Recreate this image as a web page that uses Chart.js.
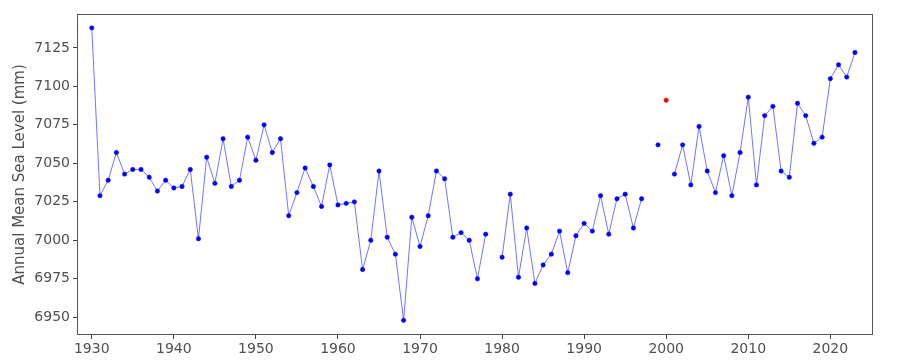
<!DOCTYPE html>
<html lang="en">
<head>
<meta charset="UTF-8">
<title>Annual Mean Sea Level</title>
<script src="https://cdn.jsdelivr.net/npm/chart.js"></script>
<style>
    html, body { margin: 0; padding: 0; background: #fff; }
    .wrap { width: 900px; height: 360px; position: relative; }
</style>
</head>
<body>
<div class="wrap"><canvas id="seaChart"></canvas></div>
<script>
// data
const years = [1930, 1931, 1932, 1933, 1934, 1935, 1936, 1937, 1938, 1939,
    1940, 1941, 1942, 1943, 1944, 1945, 1946, 1947, 1948, 1949,
    1950, 1951, 1952, 1953, 1954, 1955, 1956, 1957, 1958, 1959,
    1960, 1961, 1962, 1963, 1964, 1965, 1966, 1967, 1968, 1969,
    1970, 1971, 1972, 1973, 1974, 1975, 1976, 1977, 1978, 1979,
    1980, 1981, 1982, 1983, 1984, 1985, 1986, 1987, 1988, 1989,
    1990, 1991, 1992, 1993, 1994, 1995, 1996, 1997, 1998, 1999,
    2000, 2001, 2002, 2003, 2004, 2005, 2006, 2007, 2008, 2009,
    2010, 2011, 2012, 2013, 2014, 2015, 2016, 2017, 2018, 2019,
    2020, 2021, 2022, 2023];
const seaLevel = [7138, 7029, 7039, 7057, 7043, 7046, 7046, 7041, 7032, 7039,
    7034, 7035, 7046, 7001, 7054, 7037, 7066, 7035, 7039, 7067,
    7052, 7075, 7057, 7066, 7016, 7031, 7047, 7035, 7022, 7049,
    7023, 7024, 7025, 6981, 7000, 7045, 7002, 6991, 6948, 7015,
    6996, 7016, 7045, 7040, 7002, 7005, 7000, 6975, 7004, null,
    6989, 7030, 6976, 7008, 6972, 6984, 6991, 7006, 6979, 7003,
    7011, 7006, 7029, 7004, 7027, 7030, 7008, 7027, null, 7062,
    null, 7043, 7062, 7036, 7074, 7045, 7031, 7055, 7029, 7057,
    7093, 7036, 7081, 7087, 7045, 7041, 7089, 7081, 7063, 7067,
    7105, 7114, 7106, 7122];
const outlierYears = [2000];
const outlierLevel = [7091];
const xTicks = [1930, 1940, 1950, 1960, 1970, 1980, 1990, 2000, 2010, 2020];
const yTicks = [6950, 6975, 7000, 7025, 7050, 7075, 7100, 7125];

const frame = {
    id: 'frame',
    afterDraw(chart) {
        const a = chart.chartArea;
        const ctx = chart.ctx;
        ctx.save();
        ctx.strokeStyle = '#555';
        ctx.lineWidth = 1;
        ctx.strokeRect(Math.round(a.left) + 0.5, Math.round(a.top) + 0.5,
            Math.round(a.right - a.left) - 1, Math.round(a.bottom - a.top) - 1);
        ctx.restore();
    }
};

Chart.defaults.font.family = 'DejaVu Sans';
Chart.defaults.color = '#505050';

new Chart(document.getElementById('seaChart'), {
    type: 'line',
    data: {
        datasets: [
            {
                data: years.map((y, i) => ({ x: y, y: seaLevel[i] })),
                borderColor: 'rgba(0, 0, 255, 0.55)',
                borderWidth: 1,
                pointBackgroundColor: '#0000ff',
                pointBorderColor: '#0000ff',
                pointRadius: 2.2,
                pointBorderWidth: 0.5,
                spanGaps: false,
                tension: 0
            },
            {
                data: outlierYears.map((y, i) => ({ x: y, y: outlierLevel[i] })),
                showLine: false,
                pointBackgroundColor: '#ff0000',
                pointBorderColor: '#ff0000',
                pointRadius: 2.2,
                pointBorderWidth: 0.5
            }
        ]
    },
    options: {
        responsive: true,
        maintainAspectRatio: false,
        animation: false,
        layout: { padding: { left: 0, top: 14, right: 27, bottom: 0 } },
        plugins: { legend: { display: false }, tooltip: { enabled: false } },
        scales: {
            x: {
                type: 'linear',
                min: 1928.2,
                max: 2025.2,
                afterBuildTicks: s => { s.ticks = xTicks.map(v => ({ value: v })); },
                afterFit: s => { s.height = 25; },
                grid: { drawOnChartArea: false, tickLength: 4, tickColor: '#444' },
                border: { display: false },
                ticks: { font: { size: 14 }, padding: 2, maxRotation: 0, callback: v => String(v) }
            },
            y: {
                min: 6938.5,
                max: 7147,
                afterBuildTicks: s => { s.ticks = yTicks.map(v => ({ value: v })); },
                afterFit: s => { s.width = 77; },
                grid: { drawOnChartArea: false, tickLength: 4, tickColor: '#444' },
                border: { display: false },
                title: { display: true, text: 'Annual Mean Sea Level (mm)', font: { size: 15 }, padding: { top: 11, bottom: 0 } },
                ticks: { font: { size: 14 }, padding: 3, callback: v => String(v) }
            }
        }
    },
    plugins: [frame]
});
</script>
</body>
</html>
